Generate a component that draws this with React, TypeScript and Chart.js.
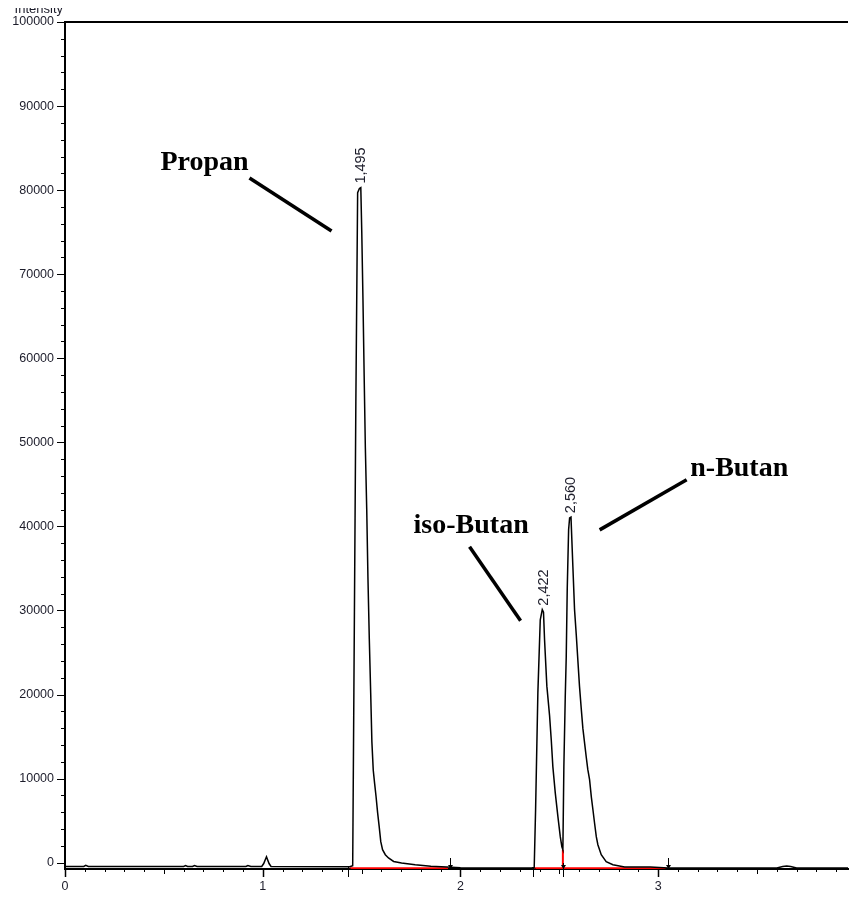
import React, { useEffect, useRef } from 'react';
import { Chart, registerables } from 'chart.js';

Chart.register(...registerables);

// ---- data (retention time in min, intensity) ----
const traceTime = [
  0.000, 0.095, 0.105, 0.118, 0.600, 0.610, 0.620, 0.645, 0.655, 0.668,
  0.915, 0.925, 0.940, 0.995, 1.005, 1.019, 1.032, 1.042, 1.440,
  1.455, 1.461, 1.471, 1.480, 1.489, 1.496, 1.501, 1.507, 1.513, 1.519,
  1.526, 1.532, 1.539, 1.546, 1.552, 1.559, 1.566, 1.573, 1.581, 1.589,
  1.597, 1.606, 1.620, 1.636, 1.662, 1.702, 1.771, 1.850, 1.930, 2.000, 2.360,
  2.373, 2.380, 2.3915, 2.4036, 2.4138, 2.420, 2.4254, 2.437, 2.4507, 2.4593,
  2.4674, 2.4795, 2.4927, 2.5048, 2.5129, 2.518,
  2.523, 2.530, 2.535, 2.540, 2.547, 2.552, 2.559, 2.5686, 2.577, 2.586,
  2.594, 2.602, 2.611, 2.619, 2.628, 2.636, 2.644, 2.653, 2.662, 2.670,
  2.678, 2.687, 2.695, 2.712, 2.737, 2.771, 2.830, 2.960, 3.050, 3.600,
  3.630, 3.650, 3.670, 3.700, 3.960,
];
const traceIntensity = [
  -450, -450, -320, -450, -450, -350, -450, -450, -330, -450,
  -450, -330, -450, -450, -100, 710, -100, -450, -480,
  -350, 20300, 54900, 79700, 80200, 80300, 74900, 66900, 57900, 49400,
  42000, 34000, 26600, 20200, 14400, 11000, 9400, 7900, 5950, 4300,
  2500, 1550, 950, 560, 150, -40, -240, -420, -520, -600, -620,
  -560, 6300, 20200, 28900, 30100, 29800, 26500, 21000, 17500, 14600,
  11400, 8300, 5500, 3100, 1900, 1550,
  11400, 19700, 24500, 32500, 39600, 41000, 41100, 35200, 30100, 27000,
  24000, 21000, 18300, 16000, 14200, 12600, 11100, 9870, 7800, 6300,
  4750, 3100, 2140, 950, 120, -240, -500, -520, -620, -620,
  -450, -380, -450, -620, -620,
];

// integration baselines (red)
const baseline1Time = [1.440, 1.937];
const baseline1Y = [-650, -650];
const baseline2Time = [2.365, 2.518, 2.518, 2.518, 3.037];
const baseline2Y = [-650, -650, 1550, -650, -650];

// peak retention labels
const peakTimes = [1.495, 2.422, 2.560];
const peakHeights = [80300, 30100, 41100];
const peakLabels = ['1,495', '2,422', '2,560'];

// compound annotations
const compoundNames = ['Propan', 'iso-Butan', 'n-Butan'];
const compoundTextX = [0.706, 2.054, 3.410];
const compoundTextY = [82400, 39240, 46010];
const leaderX1 = [0.933, 2.046, 3.144];
const leaderY1 = [81450, 37570, 45540];
const leaderX2 = [1.348, 2.304, 2.704];
const leaderY2 = [75140, 28770, 39590];

// integration event markers
const baselineStartTimes = [1.432, 2.365];
const baselineEndTimes = [1.945, 3.050];
const valleyTimes = [2.518];

// axis ticks
const xTickValues = [0, 1, 2, 3];
const yTickValues = [0, 10000, 20000, 30000, 40000, 50000, 60000, 70000, 80000, 90000, 100000];
const yAxisTitle = 'Intensity';

const toPoints = (xs: number[], ys: number[]) => xs.map((x, i) => ({ x, y: ys[i] }));

const decorPlugin = {
  id: 'chromDecor',
  afterDraw(chart: any) {
    const { ctx, chartArea } = chart;
    const xs = chart.scales.x;
    const ys = chart.scales.y;
    const axisY = chartArea.bottom;
    const left = chartArea.left;
    ctx.save();

    // top frame line
    ctx.strokeStyle = '#000';
    ctx.lineWidth = 2;
    ctx.beginPath();
    ctx.moveTo(left - 1, chartArea.top);
    ctx.lineTo(chartArea.right, chartArea.top);
    ctx.stroke();

    // y ticks
    for (let v = 0; v <= 100000; v += 2000) {
      const py = Math.round(ys.getPixelForValue(v)) + 0.5;
      const major = v % 10000 === 0;
      ctx.lineWidth = 1;
      ctx.beginPath();
      ctx.moveTo(left - 1, py);
      ctx.lineTo(left - (major ? 8 : 4), py);
      ctx.stroke();
    }
    // x ticks
    for (let i = 0; i <= 39; i++) {
      const px = Math.round(xs.getPixelForValue(i / 10)) + 0.5;
      const len = i % 10 === 0 ? 8 : i % 5 === 0 ? 5 : 3;
      ctx.lineWidth = i % 10 === 0 ? 1.5 : 1;
      ctx.beginPath();
      ctx.moveTo(px, axisY + 1);
      ctx.lineTo(px, axisY + len);
      ctx.stroke();
    }

    // event markers
    ctx.lineWidth = 1;
    ctx.fillStyle = '#000';
    baselineStartTimes.forEach((t) => {
      const px = Math.round(xs.getPixelForValue(t)) + 0.5;
      ctx.beginPath();
      ctx.moveTo(px, axisY - 2);
      ctx.lineTo(px, axisY + 8);
      ctx.moveTo(px - 2.5, axisY);
      ctx.lineTo(px + 2.5, axisY);
      ctx.stroke();
    });
    const arrow = (px: number, top: number) => {
      ctx.beginPath();
      ctx.moveTo(px, top);
      ctx.lineTo(px, axisY);
      ctx.stroke();
      ctx.beginPath();
      ctx.moveTo(px - 2.5, axisY - 4);
      ctx.lineTo(px + 2.5, axisY - 4);
      ctx.lineTo(px, axisY);
      ctx.closePath();
      ctx.fill();
    };
    baselineEndTimes.forEach((t) => arrow(Math.round(xs.getPixelForValue(t)) + 0.5, axisY - 11));
    valleyTimes.forEach((t) => {
      const px = Math.round(xs.getPixelForValue(t)) + 0.5;
      arrow(px, axisY - 6);
      ctx.beginPath();
      ctx.moveTo(px, axisY);
      ctx.lineTo(px, axisY + 8);
      ctx.stroke();
    });

    // peak retention time labels (rotated)
    ctx.fillStyle = '#1c1c2a';
    ctx.font = '14.5px "Liberation Sans"';
    ctx.textAlign = 'left';
    ctx.textBaseline = 'middle';
    peakTimes.forEach((t, i) => {
      const px = xs.getPixelForValue(t);
      const py = ys.getPixelForValue(peakHeights[i]) - 4;
      ctx.save();
      ctx.translate(px, py);
      ctx.rotate(-Math.PI / 2);
      ctx.fillText(peakLabels[i], 0, 0);
      ctx.restore();
    });

    // compound names + leader lines
    ctx.fillStyle = '#000';
    ctx.font = 'bold 28px "Liberation Serif"';
    ctx.textAlign = 'center';
    ctx.textBaseline = 'alphabetic';
    compoundNames.forEach((n, i) => {
      ctx.fillText(n, xs.getPixelForValue(compoundTextX[i]), ys.getPixelForValue(compoundTextY[i]));
      ctx.lineWidth = 3.5;
      ctx.beginPath();
      ctx.moveTo(xs.getPixelForValue(leaderX1[i]), ys.getPixelForValue(leaderY1[i]));
      ctx.lineTo(xs.getPixelForValue(leaderX2[i]), ys.getPixelForValue(leaderY2[i]));
      ctx.stroke();
    });

    // clipped axis title
    ctx.save();
    ctx.beginPath();
    ctx.rect(0, 8, 80, 10);
    ctx.clip();
    ctx.fillStyle = '#1c1c2a';
    ctx.font = '13px "Liberation Sans"';
    ctx.textAlign = 'right';
    ctx.textBaseline = 'alphabetic';
    ctx.fillText(yAxisTitle, 63, 12.5);
    ctx.restore();

    ctx.restore();
  },
};

export default function App() {
  const ref = useRef<HTMLCanvasElement | null>(null);
  useEffect(() => {
    document.body.style.margin = '0';
    const canvas = ref.current;
    if (!canvas) return;
    const chart = new Chart(canvas, {
      type: 'scatter',
      data: {
        datasets: [
          {
            data: toPoints(traceTime, traceIntensity),
            showLine: true,
            borderColor: '#000',
            borderWidth: 1.5,
            pointRadius: 0,
            order: 0,
          },
          {
            data: toPoints(baseline1Time, baseline1Y),
            showLine: true,
            borderColor: '#ff0000',
            borderWidth: 2,
            pointRadius: 0,
            order: 1,
          },
          {
            data: toPoints(baseline2Time, baseline2Y),
            showLine: true,
            borderColor: '#ff0000',
            borderWidth: 2,
            pointRadius: 0,
            order: 1,
          },
        ],
      },
      options: {
        animation: false,
        responsive: false,
        devicePixelRatio: 1,
        layout: { padding: { top: 22, right: 1, left: 0, bottom: 0 } },
        plugins: { legend: { display: false }, tooltip: { enabled: false } },
        scales: {
          x: {
            type: 'linear',
            min: 0,
            max: 3.96,
            afterBuildTicks: (s: any) => {
              s.ticks = xTickValues.map((v) => ({ value: v }));
            },
            afterFit: (s: any) => {
              s.height = 31;
            },
            grid: { display: false, drawTicks: false },
            border: { display: true, color: '#000', width: 2 },
            ticks: {
              autoSkip: false,
              maxRotation: 0,
              padding: 10,
              color: '#1c1c2a',
              font: { family: 'Liberation Sans', size: 12.5 },
              callback: (v: any) => String(v),
            },
          },
          y: {
            type: 'linear',
            min: -750,
            max: 100000,
            afterBuildTicks: (s: any) => {
              s.ticks = yTickValues.map((v) => ({ value: v }));
            },
            afterFit: (s: any) => {
              s.width = 65;
            },
            grid: { display: false, drawTicks: false },
            border: { display: true, color: '#000', width: 2 },
            ticks: {
              autoSkip: false,
              padding: 11,
              color: '#1c1c2a',
              font: { family: 'Liberation Sans', size: 12.5 },
              callback: (v: any) => String(v),
            },
          },
        },
      },
      plugins: [decorPlugin],
    });
    return () => chart.destroy();
  }, []);
  return <canvas ref={ref} width={849} height={900} style={{ display: 'block' }} />;
}
